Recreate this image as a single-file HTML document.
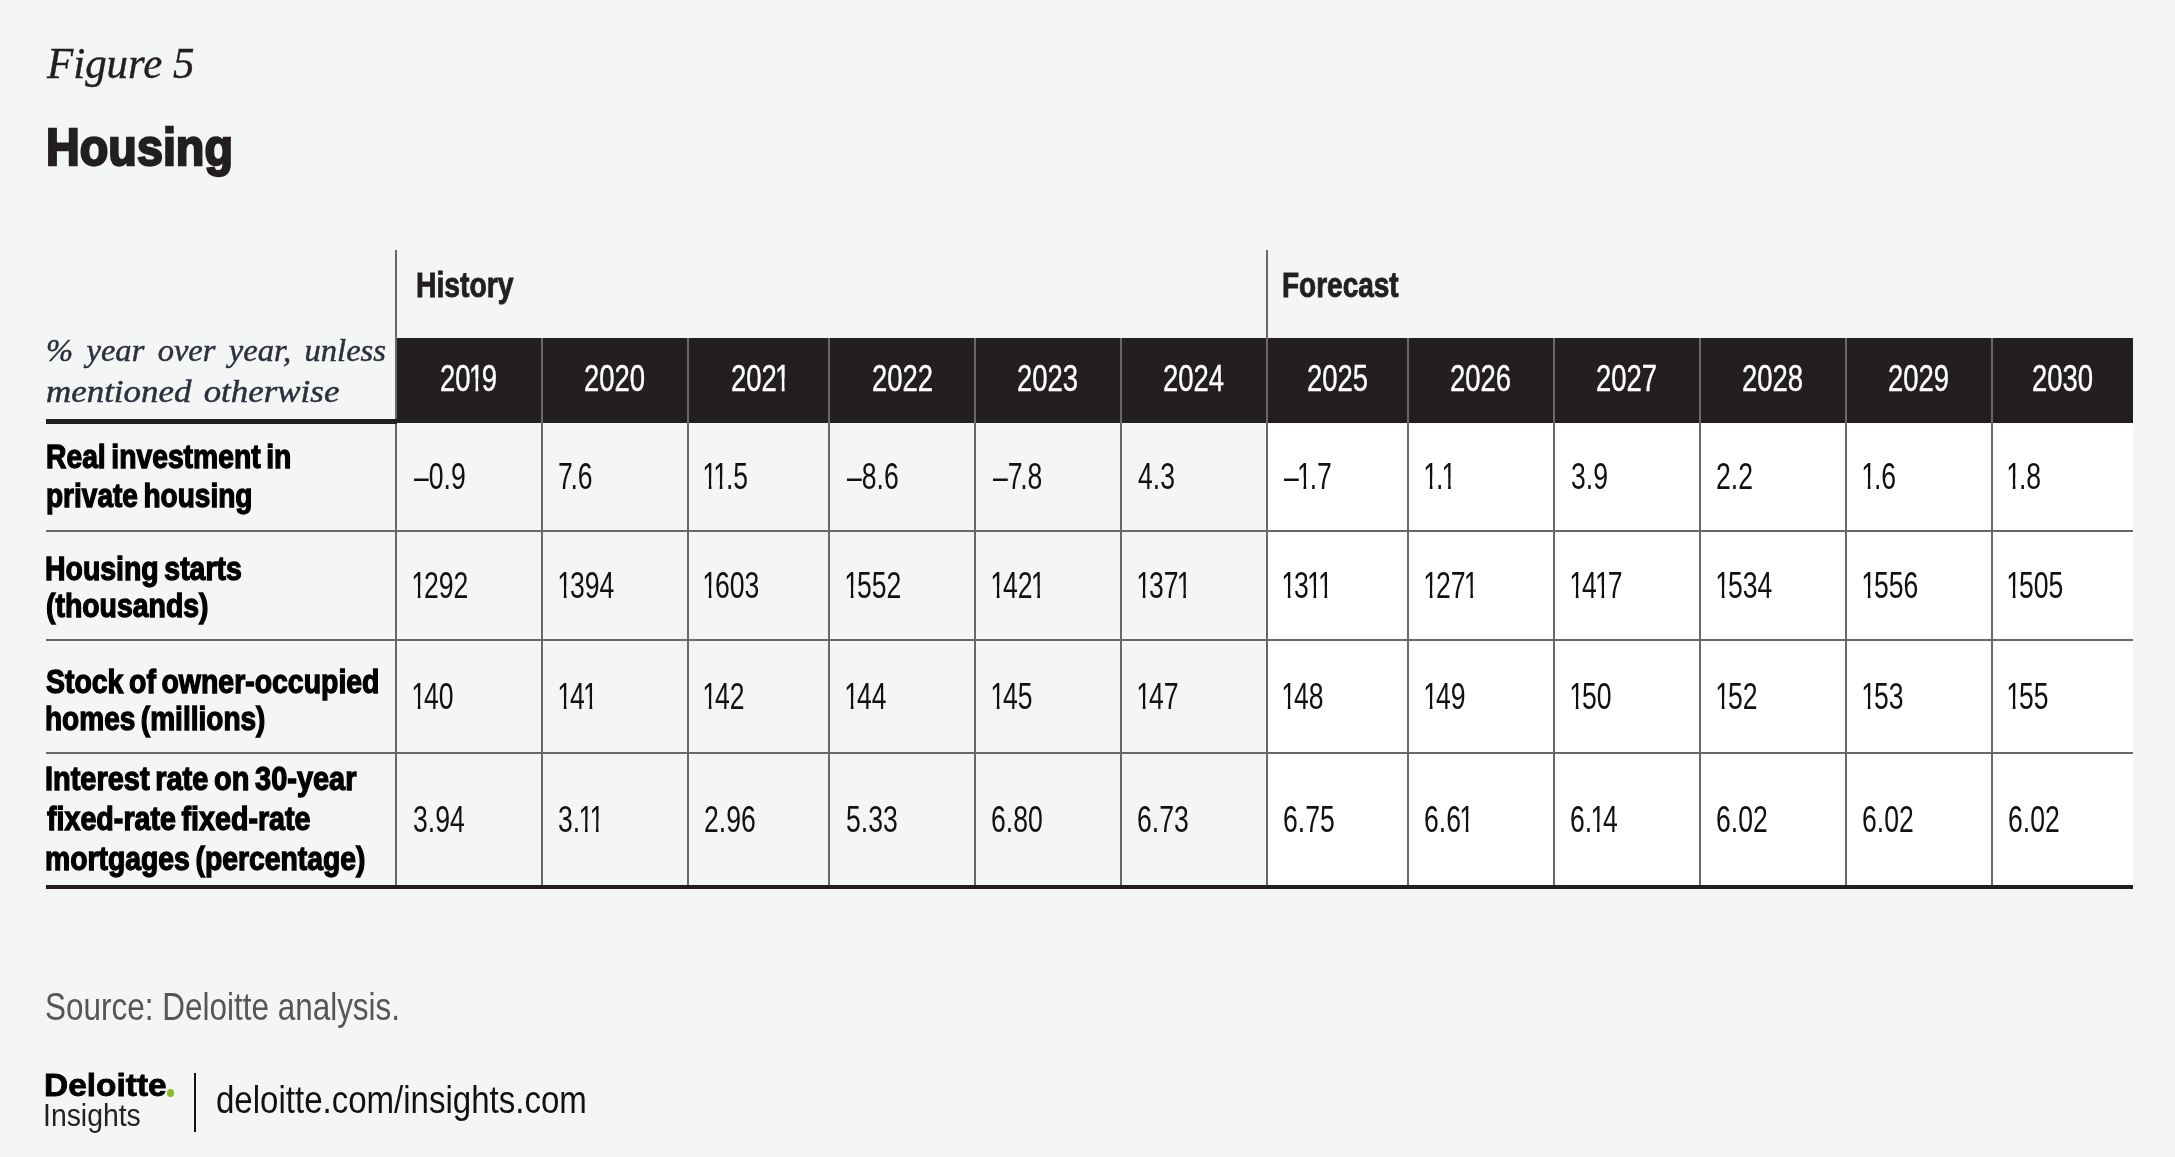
<!DOCTYPE html>
<html><head><meta charset="utf-8"><title>Figure 5 Housing</title>
<style>
html,body{margin:0;padding:0}
body{width:2175px;height:1157px;background:#f4f6f5;position:relative;overflow:hidden;font-family:"Liberation Sans",sans-serif}
#w{position:absolute;left:0;top:0;width:2175px;height:1157px;will-change:transform}
.r{position:absolute}
.sn{font-family:"Liberation Sans",sans-serif;font-weight:normal}
.sb{font-family:"Liberation Sans",sans-serif;font-weight:bold}
.si{font-family:"Liberation Serif",serif;font-style:italic}
.t{position:absolute;white-space:nowrap;line-height:0;transform-origin:0 0;display:block;-webkit-font-smoothing:antialiased}
.t i{font-style:normal;display:inline-block;line-height:0;margin:0 -0.08em 0 -0.065em;clip-path:polygon(-0.1em -0.6em,0.7em -0.6em,0.7em 0,0.346em 0,0.346em 0.6em,0.245em 0.6em,0.245em 0,-0.1em 0)}
.t b{font-weight:normal;margin-right:-0.09em}
</style></head><body><div id="w">
<div class="r" style="left:1267px;top:423px;width:866.3px;height:463px;background:#ffffff"></div>
<div class="r" style="left:396px;top:337.5px;width:1737.3px;height:85.8px;background:#231f20"></div>
<div class="r" style="left:395px;top:250px;width:2px;height:636px;background:#696866"></div>
<div class="r" style="left:540.8px;top:338px;width:2px;height:548px;background:#696866"></div>
<div class="r" style="left:686.6px;top:338px;width:2px;height:548px;background:#696866"></div>
<div class="r" style="left:828.2px;top:338px;width:2px;height:548px;background:#696866"></div>
<div class="r" style="left:974.2px;top:338px;width:2px;height:548px;background:#696866"></div>
<div class="r" style="left:1120px;top:338px;width:2px;height:548px;background:#696866"></div>
<div class="r" style="left:1265.7px;top:250px;width:2px;height:636px;background:#696866"></div>
<div class="r" style="left:1407px;top:338px;width:2px;height:548px;background:#696866"></div>
<div class="r" style="left:1553px;top:338px;width:2px;height:548px;background:#696866"></div>
<div class="r" style="left:1699px;top:338px;width:2px;height:548px;background:#696866"></div>
<div class="r" style="left:1845px;top:338px;width:2px;height:548px;background:#696866"></div>
<div class="r" style="left:1990.7px;top:338px;width:2px;height:548px;background:#696866"></div>
<div class="r" style="left:46px;top:529.8px;width:2087.3px;height:2px;background:#696866"></div>
<div class="r" style="left:46px;top:638.6px;width:2087.3px;height:2px;background:#696866"></div>
<div class="r" style="left:46px;top:751.8px;width:2087.3px;height:2px;background:#696866"></div>
<div class="r" style="left:46px;top:419.3px;width:351px;height:4.4px;background:#231f20"></div>
<div class="r" style="left:46px;top:885px;width:2087.3px;height:4px;background:#231f20"></div>
<div class="r" style="left:166.9px;top:1089.4px;width:7.4px;height:7.4px;border-radius:50%;background:#86bc25"></div>
<div class="r" style="left:193.9px;top:1072.5px;width:2px;height:59.5px;background:#111"></div>
<span class="t si" style="left:46.71px;top:62.71px;font-size:45px;color:#231f20;transform:scaleX(0.9535);-webkit-text-stroke:0.4px #231f20;">Figure 5</span>
<span class="t sb" style="left:45.93px;top:146.88px;font-size:52.3px;color:#231f20;transform:scaleX(0.8940);-webkit-text-stroke:2.4px #231f20;">Housing</span>
<span class="t sb" style="left:415.82px;top:285.02px;font-size:35px;color:#231f20;transform:scaleX(0.8091);-webkit-text-stroke:0.9px #231f20;">History</span>
<span class="t sb" style="left:1282.14px;top:285.02px;font-size:35px;color:#231f20;transform:scaleX(0.7997);-webkit-text-stroke:0.9px #231f20;">Forecast</span>
<span class="t si" style="left:45.75px;top:351.41px;font-size:31px;color:#2c2f3c;transform:scaleX(1.0500);-webkit-text-stroke:0.45px #2c2f3c;word-spacing:0.16em;">% year over year, unless</span>
<span class="t si" style="left:46.03px;top:391.71px;font-size:31px;color:#2c2f3c;transform:scaleX(1.1261);-webkit-text-stroke:0.45px #2c2f3c;word-spacing:0.1em;">mentioned otherwise</span>
<span class="t sn" style="left:440.31px;top:378.01px;font-size:37.2px;color:#ffffff;transform:scaleX(0.7380);-webkit-text-stroke:0.4px #ffffff;">20<i>1</i>9</span>
<span class="t sn" style="left:584.01px;top:378.01px;font-size:37.2px;color:#ffffff;transform:scaleX(0.7380);-webkit-text-stroke:0.4px #ffffff;">2020</span>
<span class="t sn" style="left:731.03px;top:378.01px;font-size:37.2px;color:#ffffff;transform:scaleX(0.7380);-webkit-text-stroke:0.4px #ffffff;">202<i>1</i></span>
<span class="t sn" style="left:871.66px;top:378.01px;font-size:37.2px;color:#ffffff;transform:scaleX(0.7380);-webkit-text-stroke:0.4px #ffffff;">2022</span>
<span class="t sn" style="left:1017.48px;top:378.01px;font-size:37.2px;color:#ffffff;transform:scaleX(0.7380);-webkit-text-stroke:0.4px #ffffff;">2023</span>
<span class="t sn" style="left:1163.03px;top:378.01px;font-size:37.2px;color:#ffffff;transform:scaleX(0.7380);-webkit-text-stroke:0.4px #ffffff;">2024</span>
<span class="t sn" style="left:1306.70px;top:378.01px;font-size:37.2px;color:#ffffff;transform:scaleX(0.7380);-webkit-text-stroke:0.4px #ffffff;">2025</span>
<span class="t sn" style="left:1450.38px;top:378.01px;font-size:37.2px;color:#ffffff;transform:scaleX(0.7380);-webkit-text-stroke:0.4px #ffffff;">2026</span>
<span class="t sn" style="left:1596.46px;top:378.01px;font-size:37.2px;color:#ffffff;transform:scaleX(0.7380);-webkit-text-stroke:0.4px #ffffff;">2027</span>
<span class="t sn" style="left:1742.37px;top:378.01px;font-size:37.2px;color:#ffffff;transform:scaleX(0.7380);-webkit-text-stroke:0.4px #ffffff;">2028</span>
<span class="t sn" style="left:1888.27px;top:378.01px;font-size:37.2px;color:#ffffff;transform:scaleX(0.7380);-webkit-text-stroke:0.4px #ffffff;">2029</span>
<span class="t sn" style="left:2031.81px;top:378.01px;font-size:37.2px;color:#ffffff;transform:scaleX(0.7380);-webkit-text-stroke:0.4px #ffffff;">2030</span>
<span class="t sb" style="left:45.73px;top:456.55px;font-size:32.6px;color:#000;transform:scaleX(0.8678);-webkit-text-stroke:1.3px #000;word-spacing:-0.08em;">Real investment in</span>
<span class="t sb" style="left:45.74px;top:496.45px;font-size:32.6px;color:#000;transform:scaleX(0.8602);-webkit-text-stroke:1.3px #000;word-spacing:-0.08em;">private housing</span>
<span class="t sb" style="left:45.22px;top:568.95px;font-size:32.6px;color:#000;transform:scaleX(0.8726);-webkit-text-stroke:1.3px #000;word-spacing:-0.08em;">Housing starts</span>
<span class="t sb" style="left:45.65px;top:606.25px;font-size:32.6px;color:#000;transform:scaleX(0.8718);-webkit-text-stroke:1.3px #000;word-spacing:-0.08em;">(thousands)</span>
<span class="t sb" style="left:46.21px;top:681.75px;font-size:32.6px;color:#000;transform:scaleX(0.8726);-webkit-text-stroke:1.3px #000;word-spacing:-0.08em;">Stock of owner-occupied</span>
<span class="t sb" style="left:45.10px;top:718.95px;font-size:32.6px;color:#000;transform:scaleX(0.8602);-webkit-text-stroke:1.3px #000;word-spacing:-0.08em;">homes (millions)</span>
<span class="t sb" style="left:45.20px;top:778.95px;font-size:32.6px;color:#000;transform:scaleX(0.8881);-webkit-text-stroke:1.3px #000;word-spacing:-0.08em;">Interest rate on 30-year</span>
<span class="t sb" style="left:46.64px;top:818.65px;font-size:32.6px;color:#000;transform:scaleX(0.8791);-webkit-text-stroke:1.3px #000;word-spacing:-0.08em;">fixed-rate fixed-rate</span>
<span class="t sb" style="left:45.22px;top:859.05px;font-size:32.6px;color:#000;transform:scaleX(0.8698);-webkit-text-stroke:1.3px #000;word-spacing:-0.08em;">mortgages (percentage)</span>
<span class="t sn" style="left:413.60px;top:477.23px;font-size:36px;color:#111;transform:scaleX(0.7380);">–0.9</span>
<span class="t sn" style="left:558.04px;top:477.23px;font-size:36px;color:#111;transform:scaleX(0.7380);"><b>7</b>.6</span>
<span class="t sn" style="left:704.37px;top:477.23px;font-size:36px;color:#111;transform:scaleX(0.7380);"><i>1</i><i>1</i>.5</span>
<span class="t sn" style="left:846.80px;top:477.23px;font-size:36px;color:#111;transform:scaleX(0.7380);">–8.6</span>
<span class="t sn" style="left:992.80px;top:477.23px;font-size:36px;color:#111;transform:scaleX(0.7380);">–<b>7</b>.8</span>
<span class="t sn" style="left:1137.99px;top:477.23px;font-size:36px;color:#111;transform:scaleX(0.7380);">4.3</span>
<span class="t sn" style="left:1284.30px;top:477.23px;font-size:36px;color:#111;transform:scaleX(0.7380);">–<i>1</i>.7</span>
<span class="t sn" style="left:1424.77px;top:477.23px;font-size:36px;color:#111;transform:scaleX(0.7380);"><i>1</i>.<i>1</i></span>
<span class="t sn" style="left:1570.59px;top:477.23px;font-size:36px;color:#111;transform:scaleX(0.7380);">3.9</span>
<span class="t sn" style="left:1716.26px;top:477.23px;font-size:36px;color:#111;transform:scaleX(0.7380);">2.2</span>
<span class="t sn" style="left:1862.77px;top:477.23px;font-size:36px;color:#111;transform:scaleX(0.7380);"><i>1</i>.6</span>
<span class="t sn" style="left:2008.47px;top:477.23px;font-size:36px;color:#111;transform:scaleX(0.7380);"><i>1</i>.8</span>
<span class="t sn" style="left:412.77px;top:585.83px;font-size:36px;color:#111;transform:scaleX(0.7380);"><i>1</i>292</span>
<span class="t sn" style="left:558.57px;top:585.83px;font-size:36px;color:#111;transform:scaleX(0.7380);"><i>1</i>394</span>
<span class="t sn" style="left:704.37px;top:585.83px;font-size:36px;color:#111;transform:scaleX(0.7380);"><i>1</i>603</span>
<span class="t sn" style="left:845.97px;top:585.83px;font-size:36px;color:#111;transform:scaleX(0.7380);"><i>1</i>552</span>
<span class="t sn" style="left:991.97px;top:585.83px;font-size:36px;color:#111;transform:scaleX(0.7380);"><i>1</i>42<i>1</i></span>
<span class="t sn" style="left:1137.77px;top:585.83px;font-size:36px;color:#111;transform:scaleX(0.7380);"><i>1</i>37<i>1</i></span>
<span class="t sn" style="left:1283.47px;top:585.83px;font-size:36px;color:#111;transform:scaleX(0.7380);"><i>1</i>3<i>1</i><i>1</i></span>
<span class="t sn" style="left:1424.77px;top:585.83px;font-size:36px;color:#111;transform:scaleX(0.7380);"><i>1</i>27<i>1</i></span>
<span class="t sn" style="left:1570.77px;top:585.83px;font-size:36px;color:#111;transform:scaleX(0.7380);"><i>1</i>4<i>1</i>7</span>
<span class="t sn" style="left:1716.77px;top:585.83px;font-size:36px;color:#111;transform:scaleX(0.7380);"><i>1</i>534</span>
<span class="t sn" style="left:1862.77px;top:585.83px;font-size:36px;color:#111;transform:scaleX(0.7380);"><i>1</i>556</span>
<span class="t sn" style="left:2008.47px;top:585.83px;font-size:36px;color:#111;transform:scaleX(0.7380);"><i>1</i>505</span>
<span class="t sn" style="left:412.77px;top:696.53px;font-size:36px;color:#111;transform:scaleX(0.7380);"><i>1</i>40</span>
<span class="t sn" style="left:558.57px;top:696.53px;font-size:36px;color:#111;transform:scaleX(0.7380);"><i>1</i>4<i>1</i></span>
<span class="t sn" style="left:704.37px;top:696.53px;font-size:36px;color:#111;transform:scaleX(0.7380);"><i>1</i>42</span>
<span class="t sn" style="left:845.97px;top:696.53px;font-size:36px;color:#111;transform:scaleX(0.7380);"><i>1</i>44</span>
<span class="t sn" style="left:991.97px;top:696.53px;font-size:36px;color:#111;transform:scaleX(0.7380);"><i>1</i>45</span>
<span class="t sn" style="left:1137.77px;top:696.53px;font-size:36px;color:#111;transform:scaleX(0.7380);"><i>1</i>47</span>
<span class="t sn" style="left:1283.47px;top:696.53px;font-size:36px;color:#111;transform:scaleX(0.7380);"><i>1</i>48</span>
<span class="t sn" style="left:1424.77px;top:696.53px;font-size:36px;color:#111;transform:scaleX(0.7380);"><i>1</i>49</span>
<span class="t sn" style="left:1570.77px;top:696.53px;font-size:36px;color:#111;transform:scaleX(0.7380);"><i>1</i>50</span>
<span class="t sn" style="left:1716.77px;top:696.53px;font-size:36px;color:#111;transform:scaleX(0.7380);"><i>1</i>52</span>
<span class="t sn" style="left:1862.77px;top:696.53px;font-size:36px;color:#111;transform:scaleX(0.7380);"><i>1</i>53</span>
<span class="t sn" style="left:2008.47px;top:696.53px;font-size:36px;color:#111;transform:scaleX(0.7380);"><i>1</i>55</span>
<span class="t sn" style="left:412.59px;top:820.33px;font-size:36px;color:#111;transform:scaleX(0.7380);">3.94</span>
<span class="t sn" style="left:558.39px;top:820.33px;font-size:36px;color:#111;transform:scaleX(0.7380);">3.<i>1</i><i>1</i></span>
<span class="t sn" style="left:703.86px;top:820.33px;font-size:36px;color:#111;transform:scaleX(0.7380);">2.96</span>
<span class="t sn" style="left:845.74px;top:820.33px;font-size:36px;color:#111;transform:scaleX(0.7380);">5.33</span>
<span class="t sn" style="left:991.45px;top:820.33px;font-size:36px;color:#111;transform:scaleX(0.7380);">6.80</span>
<span class="t sn" style="left:1137.25px;top:820.33px;font-size:36px;color:#111;transform:scaleX(0.7380);">6.73</span>
<span class="t sn" style="left:1282.95px;top:820.33px;font-size:36px;color:#111;transform:scaleX(0.7380);">6.75</span>
<span class="t sn" style="left:1424.25px;top:820.33px;font-size:36px;color:#111;transform:scaleX(0.7380);">6.6<i>1</i></span>
<span class="t sn" style="left:1570.25px;top:820.33px;font-size:36px;color:#111;transform:scaleX(0.7380);">6.<i>1</i>4</span>
<span class="t sn" style="left:1716.25px;top:820.33px;font-size:36px;color:#111;transform:scaleX(0.7380);">6.02</span>
<span class="t sn" style="left:1862.25px;top:820.33px;font-size:36px;color:#111;transform:scaleX(0.7380);">6.02</span>
<span class="t sn" style="left:2007.95px;top:820.33px;font-size:36px;color:#111;transform:scaleX(0.7380);">6.02</span>
<span class="t sn" style="left:45.38px;top:1006.31px;font-size:39.5px;color:#555658;transform:scaleX(0.7967);">Source: Deloitte analysis.</span>
<span class="t sb" style="left:43.96px;top:1085.20px;font-size:30.6px;color:#000;transform:scaleX(1.0932);-webkit-text-stroke:0.8px #000;">Deloitte</span>
<span class="t sn" style="left:43.35px;top:1114.56px;font-size:32px;color:#222;transform:scaleX(0.8867);">Insights</span>
<span class="t sn" style="left:215.68px;top:1100.16px;font-size:38.5px;color:#111;transform:scaleX(0.8580);">deloitte.com/insights.com</span>
</div></body></html>
